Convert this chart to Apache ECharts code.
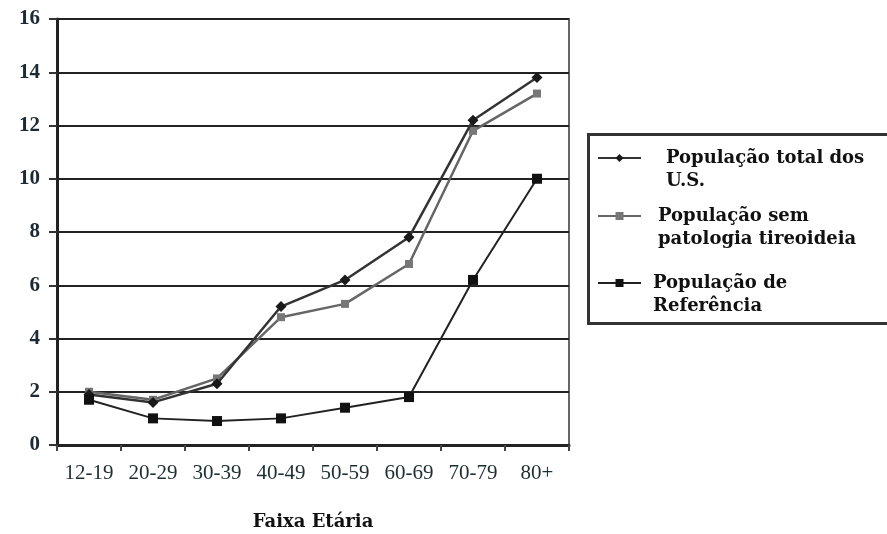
<!DOCTYPE html>
<html>
<head>
<meta charset="utf-8">
<script src="https://cdn.jsdelivr.net/npm/echarts@6/dist/echarts.min.js"></script>
<style>html,body{margin:0;padding:0;background:#fff;}#c{width:887px;height:534px;}</style>
</head>
<body>
<div id="c"></div>
<script>
const categories = ['12-19','20-29','30-39','40-49','50-59','60-69','70-79','80+'];
const seriesNames = ['População total dos U.S.','População sem patologia tireoideia','População de Referência'];
const legendLabels = [' \nPopulação total dos\nU.S.',' \nPopulação sem\npatologia tireoideia',' \nPopulação de\nReferência'];
const totalUS = [1.9, 1.6, 2.3, 5.2, 6.2, 7.8, 12.2, 13.8];
const semPatologia = [2.0, 1.7, 2.5, 4.8, 5.3, 6.8, 11.8, 13.2];
const referencia = [1.7, 1.0, 0.9, 1.0, 1.4, 1.8, 6.2, 10.0];
const yTicks = {min: 0, max: 16, interval: 2};
const axisTitle = 'Faixa Etária';

const chart = echarts.init(document.getElementById('c'), null, {renderer: 'canvas'});
const LH = 23;
const legendIcons = [158, 216, 283];
const legendIndent = [20, 12, 7];
const legendStyle = {fontFamily: 'DejaVu Serif', fontWeight: 'bold', fontSize: 18, color: '#111', lineHeight: LH};

chart.setOption({
  animation: false,
  backgroundColor: '#fff',
  graphic: [{
    type: 'rect', left: 587, top: 133, z: 0,
    shape: {width: 320, height: 189},
    style: {fill: '#fff', stroke: '#333', lineWidth: 3}
  }],
  grid: {left: 57, right: 318, top: 19, bottom: 89, containLabel: false, outerBoundsMode: 'none',
         show: true, borderColor: '#666', borderWidth: 2, backgroundColor: 'transparent'},
  legend: seriesNames.map((n, i) => ({
    data: [{name: n, textStyle: {padding: [0, 0, 0, legendIndent[i]]}}],
    left: 597, top: legendIcons[i] - 1.5 * LH,
    orient: 'vertical', itemWidth: 43, itemHeight: 10, padding: 0, itemGap: 5,
    selectedMode: false, z: 10,
    formatter: name => legendLabels[seriesNames.indexOf(name)],
    textStyle: legendStyle
  })),
  xAxis: {
    type: 'category', data: categories, boundaryGap: true,
    name: axisTitle, nameLocation: 'middle', nameGap: 68,
    nameTextStyle: {fontFamily: 'DejaVu Serif', fontWeight: 'bold', fontSize: 18, color: '#111'},
    axisLine: {lineStyle: {color: '#222', width: 3}},
    axisTick: {show: true, length: 6, lineStyle: {color: '#444', width: 2}},
    axisLabel: {interval: 0, hideOverlap: false, fontFamily: 'Liberation Serif', fontSize: 21, color: '#1c2e33', margin: 18}
  },
  yAxis: {
    type: 'value', min: yTicks.min, max: yTicks.max, interval: yTicks.interval,
    axisLine: {show: true, lineStyle: {color: '#222', width: 3}},
    axisTick: {show: true, length: 8, lineStyle: {color: '#333', width: 2}},
    axisLabel: {fontFamily: 'Liberation Serif', fontWeight: 'bold', fontSize: 21, color: '#1c2a35', margin: 17},
    splitLine: {show: true, lineStyle: {color: '#222', width: 2}}
  },
  series: [
    {name: seriesNames[0], type: 'line', data: totalUS, symbol: 'diamond', symbolSize: 11,
     itemStyle: {color: '#1a1a1a'}, lineStyle: {color: '#333', width: 2.5}, z: 4},
    {name: seriesNames[1], type: 'line', data: semPatologia, symbol: 'rect', symbolSize: 8,
     itemStyle: {color: '#777'}, lineStyle: {color: '#666', width: 2.5}, z: 3},
    {name: seriesNames[2], type: 'line', data: referencia, symbol: 'rect', symbolSize: 10,
     itemStyle: {color: '#111'}, lineStyle: {color: '#222', width: 2}, z: 5}
  ]
});
</script>
</body>
</html>
